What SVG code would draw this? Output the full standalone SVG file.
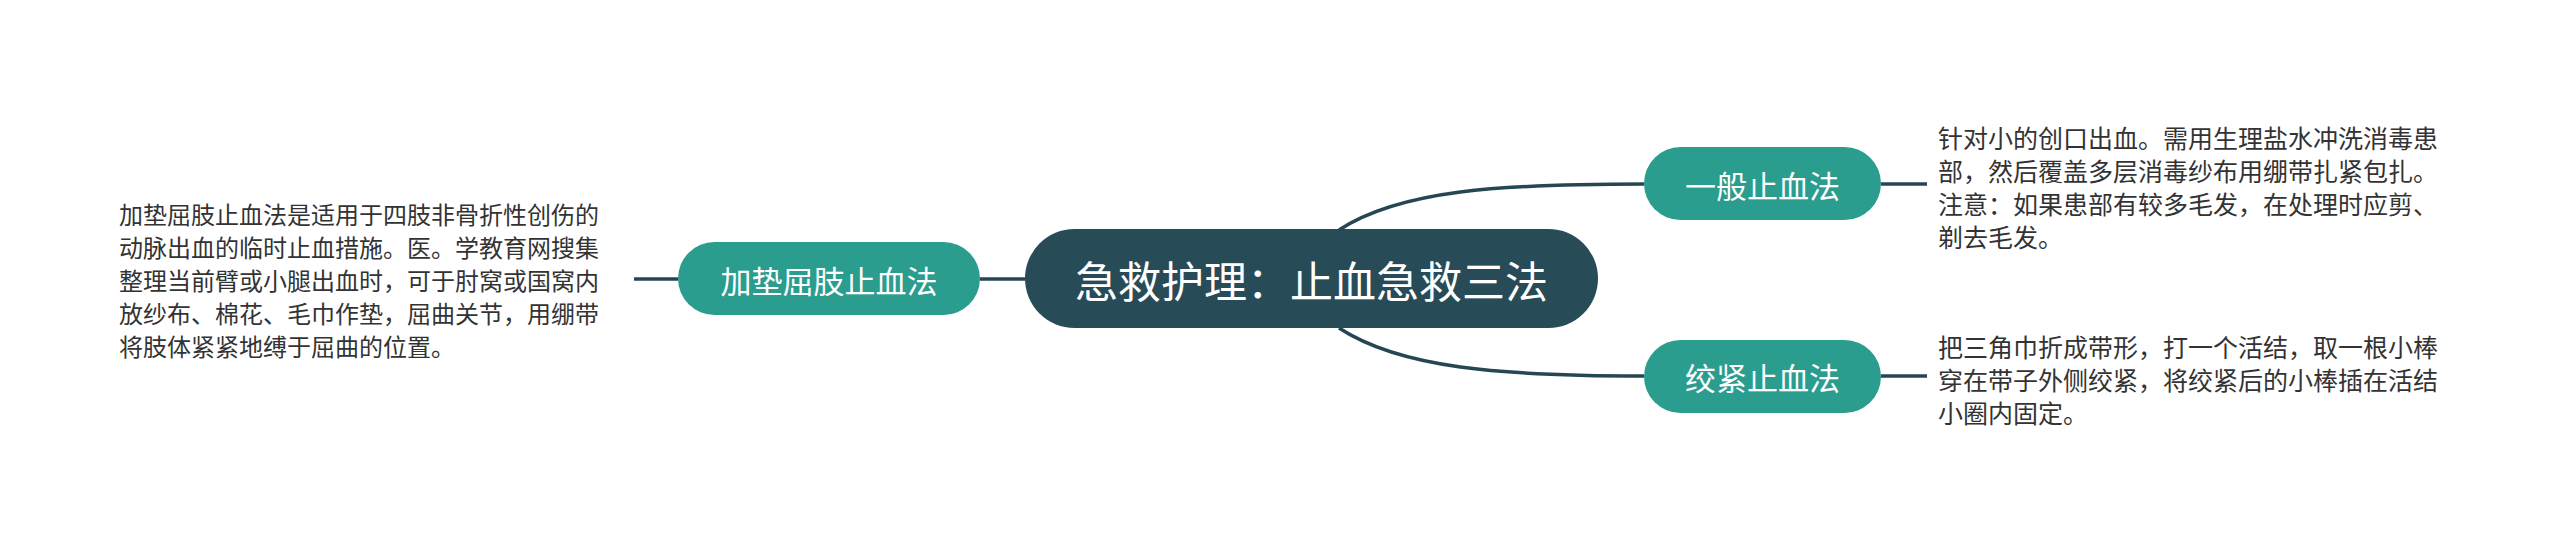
<svg xmlns="http://www.w3.org/2000/svg" width="2560" height="543" viewBox="0 0 2560 543">
<style>
.conn{fill:none;stroke:#264653;stroke-width:3.5}
.root{fill:#284b58}
.sub{fill:#2a9d8f}
.rt{font-family:"Noto Sans CJK SC","Noto Sans",sans-serif;font-size:43px;fill:#ffffff;text-anchor:middle;dominant-baseline:central}
.st{font-family:"Noto Sans CJK SC","Noto Sans",sans-serif;font-size:31px;fill:#ffffff;text-anchor:middle;dominant-baseline:central}
.lt{font-family:"Noto Sans CJK SC","Noto Sans",sans-serif;font-size:24px;fill:#333333;dominant-baseline:central}
.rtx{font-family:"Noto Sans CJK SC","Noto Sans",sans-serif;font-size:25px;fill:#333333;dominant-baseline:central}
</style>
<rect width="2560" height="543" fill="#ffffff"/>
<g id="connectors">
<path class="conn" d="M980 279 H1025"/>
<path class="conn" d="M634 279 H678"/>
<path class="conn" d="M1339 230 C1400 190 1500 184 1644 184"/>
<path class="conn" d="M1339 328 C1400 368 1500 376 1644 376"/>
<path class="conn" d="M1881 184 H1927"/>
<path class="conn" d="M1881 376 H1927"/>
</g>
<g id="root">
<rect class="root" x="1025" y="229" width="573" height="99" rx="49.5"/>
<text class="rt" x="1311.5" y="279">急救护理：止血急救三法</text>
</g>
<g id="node-left">
<rect class="sub" x="678" y="242" width="302" height="73" rx="36.5"/>
<text class="st" x="829" y="279">加垫屈肢止血法</text>
</g>
<g id="text-left">
<text class="lt" x="119" y="213">加垫屈肢止血法是适用于四肢非骨折性创伤的</text>
<text class="lt" x="119" y="246">动脉出血的临时止血措施。医。学教育网搜集</text>
<text class="lt" x="119" y="279">整理当前臂或小腿出血时，可于肘窝或国窝内</text>
<text class="lt" x="119" y="312">放纱布、棉花、毛巾作垫，屈曲关节，用绷带</text>
<text class="lt" x="119" y="345">将肢体紧紧地缚于屈曲的位置。</text>
</g>
<g id="node-top">
<rect class="sub" x="1644" y="147" width="237" height="73" rx="36.5"/>
<text class="st" x="1762.5" y="184">一般止血法</text>
</g>
<g id="text-top">
<text class="rtx" x="1938" y="137">针对小的创口出血。需用生理盐水冲洗消毒患</text>
<text class="rtx" x="1938" y="170">部，然后覆盖多层消毒纱布用绷带扎紧包扎。</text>
<text class="rtx" x="1938" y="203">注意：如果患部有较多毛发，在处理时应剪、</text>
<text class="rtx" x="1938" y="236">剃去毛发。</text>
</g>
<g id="node-bottom">
<rect class="sub" x="1644" y="340" width="237" height="73" rx="36.5"/>
<text class="st" x="1762.5" y="376">绞紧止血法</text>
</g>
<g id="text-bottom">
<text class="rtx" x="1938" y="346">把三角巾折成带形，打一个活结，取一根小棒</text>
<text class="rtx" x="1938" y="379">穿在带子外侧绞紧，将绞紧后的小棒插在活结</text>
<text class="rtx" x="1938" y="412">小圈内固定。</text>
</g>
</svg>
